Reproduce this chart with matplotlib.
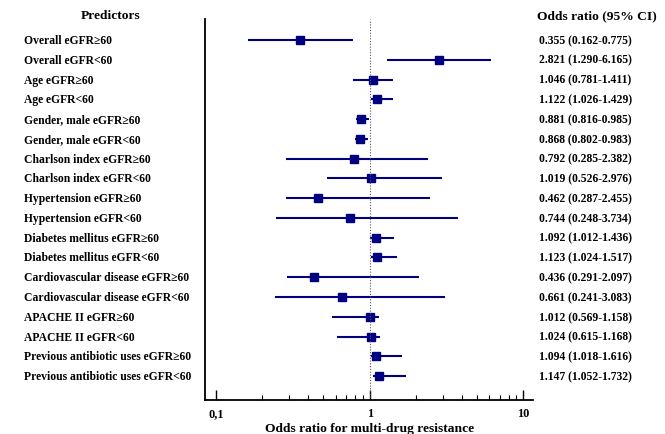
import numpy as np
import matplotlib
matplotlib.use('Agg')
import matplotlib.pyplot as plt
from matplotlib.transforms import blended_transform_factory
from matplotlib.ticker import FixedLocator, NullFormatter

plt.rcParams['font.family'] = ['Liberation Serif', 'DejaVu Serif']
plt.rcParams['font.weight'] = 'bold'

# data
predictors = ['Overall eGFR≥60', 'Overall eGFR<60', 'Age eGFR≥60', 'Age eGFR<60',
              'Gender, male eGFR≥60', 'Gender, male eGFR<60',
              'Charlson index eGFR≥60', 'Charlson index eGFR<60',
              'Hypertension eGFR≥60', 'Hypertension eGFR<60',
              'Diabetes mellitus eGFR≥60', 'Diabetes mellitus eGFR<60',
              'Cardiovascular disease eGFR≥60', 'Cardiovascular disease eGFR<60',
              'APACHE II eGFR≥60', 'APACHE II eGFR<60',
              'Previous antibiotic uses eGFR≥60', 'Previous antibiotic uses eGFR<60']
odds = [0.355, 2.821, 1.046, 1.122, 0.881, 0.868, 0.792, 1.019, 0.462,
        0.744, 1.092, 1.123, 0.436, 0.661, 1.012, 1.024, 1.094, 1.147]
ci_low = [0.162, 1.290, 0.781, 1.026, 0.816, 0.802, 0.285, 0.526, 0.287,
          0.248, 1.012, 1.024, 0.291, 0.241, 0.569, 0.615, 1.018, 1.052]
ci_high = [0.775, 6.165, 1.411, 1.429, 0.985, 0.983, 2.382, 2.976, 2.455,
           3.734, 1.436, 1.517, 2.097, 3.083, 1.158, 1.168, 1.616, 1.732]
major_ticks = [0.1, 1, 10]
major_labels = ['0,1', '1', '10']

navy = '#000080'

fig = plt.figure(figsize=(6.65, 4.35), dpi=100)
ax = fig.add_axes([0.308, 0.078, 0.494, 0.876])

ypos = np.arange(len(predictors))
for y, o, lo, hi in zip(ypos, odds, ci_low, ci_high):
    ax.plot([lo, hi], [y, y], color=navy, lw=1.5, solid_capstyle='butt')
ax.plot(odds, ypos, 's', color=navy, ms=5.5, ls='none')

ax.axvline(1, color='#555555', lw=0.8, ls=(0, (1, 1.5)))

ax.set_xscale('log')
ax.set_xlim(0.0848, 11.6)
ax.set_ylim(18.21, -1.06)

ax.xaxis.set_major_locator(FixedLocator(major_ticks))
ax.set_xticklabels(major_labels, fontsize=8.8, fontweight='bold')
minors = [m * d for d in (0.1, 1) for m in range(2, 10)]
ax.xaxis.set_minor_locator(FixedLocator(minors))
ax.xaxis.set_minor_formatter(NullFormatter())
ax.tick_params(axis='x', which='major', direction='in', length=7, width=1, pad=5)
ax.tick_params(axis='x', which='minor', direction='in', length=3.5, width=0.8)
ax.set_yticks([])

for s in ['top', 'right']:
    ax.spines[s].set_visible(False)
ax.spines['left'].set_linewidth(1.3)
ax.spines['bottom'].set_linewidth(1.3)

ax.set_xlabel('Odds ratio for multi-drug resistance', fontsize=9.7, fontweight='bold', labelpad=2)

tr = blended_transform_factory(fig.transFigure, ax.transData)
for y, name, o, lo, hi in zip(ypos, predictors, odds, ci_low, ci_high):
    ax.text(24 / 665, y, name, transform=tr, ha='left', va='center',
            fontsize=8.4, fontweight='bold', clip_on=False)
    ax.text(539 / 665, y, f'{o:.3f} ({lo:.3f}-{hi:.3f})', transform=tr,
            ha='left', va='center', fontsize=8.4, fontweight='bold', clip_on=False)

fig.text(111 / 665, 1 - 16 / 435, 'Predictors', ha='center', va='center',
         fontsize=9.7, fontweight='bold')
fig.text(537 / 665, 1 - 16 / 435, 'Odds ratio (95% CI)', ha='left', va='center',
         fontsize=9.7, fontweight='bold')

fig.savefig('out.png', dpi=100)
